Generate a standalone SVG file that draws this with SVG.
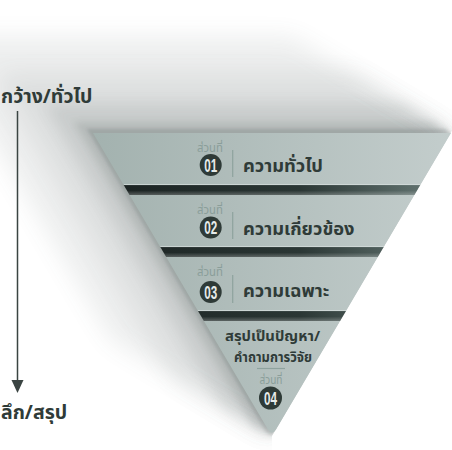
<svg xmlns="http://www.w3.org/2000/svg" width="452" height="450" viewBox="0 0 452 450">
<style>
.th{font-family:"Noto Sans Thai","Noto Sans","DejaVu Sans","Liberation Sans",sans-serif;font-weight:bold;fill:#2f3b38}
.small{font-family:"Noto Sans Thai","Noto Sans","DejaVu Sans","Liberation Sans",sans-serif;font-size:12px;fill:#8a9e9a}
.num{font-family:"Liberation Sans","DejaVu Sans",sans-serif;font-weight:bold;font-size:18px;fill:#e6ebea;text-anchor:middle}
.circ{fill:#2e3a37}
.sep{stroke:#8ea29e;stroke-width:1.2}
.band{fill:url(#bandGrad)}
.strip{fill:url(#stripGrad)}
.sh{fill:#4f5c5a}
</style>
<defs>
<linearGradient id="bandGrad" gradientUnits="userSpaceOnUse" x1="93" y1="0" x2="451" y2="0">
<stop offset="0" stop-color="#a3b2af"/>
<stop offset="1" stop-color="#c3cdcc"/>
</linearGradient>
<linearGradient id="stripGrad" gradientUnits="userSpaceOnUse" x1="120" y1="0" x2="420" y2="0">
<stop offset="0" stop-color="#1c2423"/>
<stop offset="0.6" stop-color="#2b3735"/>
<stop offset="1" stop-color="#5f706d"/>
</linearGradient>
<linearGradient id="stripV" x1="0" y1="0" x2="0" y2="1">
<stop offset="0" stop-color="#ffffff" stop-opacity="0"/>
<stop offset="0.55" stop-color="#ffffff" stop-opacity="0"/>
<stop offset="1" stop-color="#ffffff" stop-opacity="0.25"/>
</linearGradient>
<filter id="b10" x="-50%" y="-50%" width="200%" height="200%"><feGaussianBlur stdDeviation="12"/></filter>
<filter id="b6" x="-50%" y="-50%" width="200%" height="200%"><feGaussianBlur stdDeviation="7"/></filter>
<filter id="b3" x="-50%" y="-50%" width="200%" height="200%"><feGaussianBlur stdDeviation="3.5"/></filter>
<filter id="b1" x="-50%" y="-50%" width="200%" height="200%"><feGaussianBlur stdDeviation="1.5"/></filter>
<clipPath id="shClip">
<polygon points="-10,-10 535,-10 272,436 272,450 -10,450"/>
</clipPath>
</defs>

<g id="shadow-layer" clip-path="url(#shClip)">
<polygon class="sh" opacity="0.10" filter="url(#b10)" points="451,133 291,37 -67,37 112,340 272,436"/>
<polygon class="sh" opacity="0.10" filter="url(#b10)" points="451,133 355,75 -3,75 176,378 272,436"/>
<polygon class="sh" opacity="0.13" filter="url(#b6)" points="451,133 403,104 45,104 224,407 272,436"/>
<polygon class="sh" opacity="0.16" filter="url(#b3)" points="451,133 432,122 74,122 253,425 272,436"/>
<polygon class="sh" opacity="0.20" filter="url(#b1)" points="451,133 445,129 87,129 266,432 272,436"/>
</g>

<g id="connectors">
<line x1="17.5" y1="111" x2="17.5" y2="380" stroke="#3a4442" stroke-width="1.5"/>
<path d="M11.5,380 L23.5,380 L17.5,393 Z" fill="#3a4442"/>
</g>

<g id="label-top">
<text class="th" x="1" y="103" font-size="19.5">กว้าง/ทั่วไป</text>
</g>
<g id="label-bottom">
<text class="th" x="1" y="419" font-size="19.5">ลึก/สรุป</text>
</g>

<g id="strips">
<polygon class="strip" points="123.7,185 420.3,185 414.4,195 129.6,195"/>
<polygon fill="url(#stripV)" points="123.7,185 420.3,185 414.4,195 129.6,195"/>
<polygon class="strip" points="160.3,247 383.7,247 377.8,257 166.2,257"/>
<polygon fill="url(#stripV)" points="160.3,247 383.7,247 377.8,257 166.2,257"/>
<polygon class="strip" points="198,311 346,311 340.1,321 203.9,321"/>
<polygon fill="url(#stripV)" points="198,311 346,311 340.1,321 203.9,321"/>
</g>

<g id="band1">
<polygon class="band" points="93,133 451,133 420.3,185 123.7,185"/>
<line x1="124" y1="184.6" x2="420" y2="184.6" stroke="#d6dedd" stroke-width="0.8"/>
<text class="small" x="197" y="152" textLength="26" lengthAdjust="spacingAndGlyphs">ส่วนที่</text>
<circle class="circ" cx="210.7" cy="165" r="11"/>
<text class="num" x="210.7" y="171.5" textLength="13" lengthAdjust="spacingAndGlyphs">01</text>
<line class="sep" x1="232.7" y1="150" x2="232.7" y2="177"/>
<text class="th" x="243" y="172" font-size="18.3">ความทั่วไป</text>
</g>

<g id="band2">
<polygon class="band" points="129.6,195 414.4,195 383.7,247 160.3,247"/>
<line x1="160.5" y1="246.6" x2="383.5" y2="246.6" stroke="#d6dedd" stroke-width="0.8"/>
<text class="small" x="197" y="214" textLength="26" lengthAdjust="spacingAndGlyphs">ส่วนที่</text>
<circle class="circ" cx="210.7" cy="227.5" r="11"/>
<text class="num" x="210.7" y="234" textLength="13" lengthAdjust="spacingAndGlyphs">02</text>
<line class="sep" x1="232.7" y1="212" x2="232.7" y2="239"/>
<text class="th" x="243" y="235" font-size="18.3">ความเกี่ยวข้อง</text>
</g>

<g id="band3">
<polygon class="band" points="166.2,257 377.8,257 346,311 198,311"/>
<line x1="198" y1="310.6" x2="346" y2="310.6" stroke="#d6dedd" stroke-width="0.8"/>
<text class="small" x="197" y="276" textLength="26" lengthAdjust="spacingAndGlyphs">ส่วนที่</text>
<circle class="circ" cx="210.7" cy="292" r="11"/>
<text class="num" x="210.7" y="298.5" textLength="13" lengthAdjust="spacingAndGlyphs">03</text>
<line class="sep" x1="232.7" y1="275" x2="232.7" y2="303"/>
<text class="th" x="243" y="297" font-size="18.3">ความเฉพาะ</text>
</g>

<g id="band4">
<path class="band" d="M203.9,321 L340.1,321 L276,429.5 Q272,436 268,429.5 Z"/>
<text class="th" x="272.5" y="340.5" font-size="13.5" text-anchor="middle" textLength="95" lengthAdjust="spacingAndGlyphs">สรุปเป็นปัญหา/</text>
<text class="th" x="273" y="361.5" font-size="13.5" text-anchor="middle" textLength="78" lengthAdjust="spacingAndGlyphs">คำถามการวิจัย</text>
<line class="sep" x1="257" y1="368.5" x2="285" y2="368.5"/>
<text class="small" x="271" y="384" text-anchor="middle" textLength="23" lengthAdjust="spacingAndGlyphs">ส่วนที่</text>
<circle class="circ" cx="270.5" cy="398" r="11.5"/>
<text class="num" x="270.5" y="404.5" textLength="13" lengthAdjust="spacingAndGlyphs">04</text>
</g>
</svg>
